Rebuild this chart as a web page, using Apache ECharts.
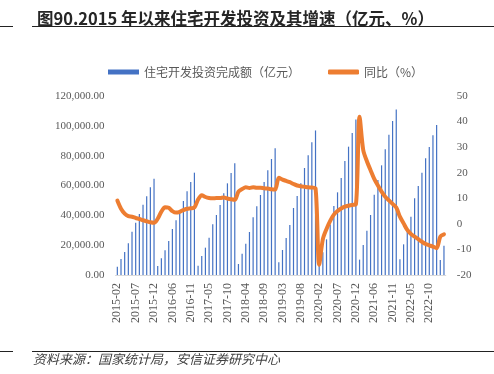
<!DOCTYPE html>
<html><head><meta charset="utf-8">
<script src="https://cdn.jsdelivr.net/npm/echarts@6/dist/echarts.min.js"></script>
<style>html,body{margin:0;padding:0;background:#fff}#c{width:494px;height:374px}</style>
</head><body><div id="c"></div>
<script>
const categories = [
 '2015-02','2015-03','2015-04','2015-05','2015-06','2015-07','2015-08','2015-09','2015-10','2015-11','2015-12',
 '2016-02','2016-03','2016-04','2016-05','2016-06','2016-07','2016-08','2016-09','2016-10','2016-11','2016-12',
 '2017-02','2017-03','2017-04','2017-05','2017-06','2017-07','2017-08','2017-09','2017-10','2017-11','2017-12',
 '2018-02','2018-03','2018-04','2018-05','2018-06','2018-07','2018-08','2018-09','2018-10','2018-11','2018-12',
 '2019-02','2019-03','2019-04','2019-05','2019-06','2019-07','2019-08','2019-09','2019-10','2019-11','2019-12',
 '2020-02','2020-03','2020-04','2020-05','2020-06','2020-07','2020-08','2020-09','2020-10','2020-11','2020-12',
 '2021-02','2021-03','2021-04','2021-05','2021-06','2021-07','2021-08','2021-09','2021-10','2021-11','2021-12',
 '2022-02','2022-03','2022-04','2022-05','2022-06','2022-07','2022-08','2022-09','2022-10','2022-11','2022-12',
 '2023-02','2023-03'
];
// 住宅开发投资完成额（亿元），累计值
const investment = [
 5560,10730,15420,21230,29050,35080,40890,47150,52740,58770,64500,
 6030,11170,16540,22790,30840,36650,41780,49610,56090,62350,68600,
 6250,12740,18320,25020,33970,40220,46930,54740,61460,68380,75000,
 7370,14300,21000,28830,38660,46040,53630,62350,70170,77770,85000,
 8490,16760,24800,33520,44920,52960,61460,71730,80220,88940,96900,
 7200,15300,23900,33900,46260,55420,65030,76430,86030,95200,104200,
 10300,20110,29720,40220,53850,63690,73520,84240,94080,103240,111000,
 10500,20560,29800,39090,51400,59670,68610,78210,85820,93630,100500,
 10050,19660
];
// 同比（%）
const yoy = [
 9.1,5.9,4.0,3.0,2.8,2.3,1.9,1.4,1.0,0.6,0.4,
 2.0,4.8,6.5,6.3,5.0,4.4,4.7,5.4,5.9,6.1,6.4,
 9.5,11.2,10.5,10.1,10.0,10.1,10.1,10.3,9.9,9.6,9.4,
 12.6,13.6,14.3,14.0,14.3,14.1,14.1,13.9,13.8,13.5,13.4,
 18.0,17.3,16.8,16.3,15.6,15.0,14.7,14.5,14.3,14.2,13.9,
 -16.0,-6.0,-2.0,1.2,3.6,5.0,6.0,6.7,7.1,7.4,7.6,
 41.9,28.9,24.5,21.0,17.6,15.0,12.6,10.6,9.2,7.8,6.4,
 2.8,0.2,-2.4,-4.0,-5.0,-6.0,-7.0,-7.9,-8.4,-8.9,-9.5,
 -5.0,-4.1
];
const seriesNames = ['住宅开发投资完成额（亿元）','同比（%）'];
const titleText = '图90.2015 年以来住宅开发投资及其增速（亿元、%）';
const sourceText = '资料来源：国家统计局，安信证券研究中心';

const chart = echarts.init(document.getElementById('c'), null, {renderer:'canvas'});
const cjk = '"Noto Sans CJK SC", sans-serif';
const serif = '"Liberation Serif", "DejaVu Serif", serif';
chart.setOption({
  animation:false,
  backgroundColor:'#fff',
  title:{text:titleText,left:32,top:5,textStyle:{fontFamily:cjk,fontSize:16.5,fontWeight:'bold',color:'#262626'}},
  graphic:[
    {type:'line',shape:{x1:0,y1:26.5,x2:13,y2:26.5},style:{stroke:'#222',lineWidth:1}},
    {type:'line',shape:{x1:32,y1:26.5,x2:494,y2:26.5},style:{stroke:'#222',lineWidth:1}},
    {type:'line',shape:{x1:0,y1:351.5,x2:13,y2:351.5},style:{stroke:'#222',lineWidth:1}},
    {type:'line',shape:{x1:32,y1:351.5,x2:494,y2:351.5},style:{stroke:'#222',lineWidth:1}},
    {type:'text',left:33,top:353,style:{text:sourceText,font:'italic 13px '+cjk,fill:'#404040'}}
  ],
  legend:{
    left:103,top:61,itemWidth:31,itemHeight:5,itemGap:28,
    textStyle:{fontFamily:cjk,fontSize:12,color:'#595959'},
    data:[{name:seriesNames[0],icon:'rect'},{name:seriesNames[1],icon:'roundRect'}]
  },
  grid:{left:115.5,right:48.2,top:96,bottom:99,containLabel:false},
  xAxis:{
    type:'category',data:categories,boundaryGap:true,
    axisLine:{show:true,lineStyle:{color:'#d9d9d9',width:1}},
    axisTick:{show:false},
    axisLabel:{interval:4,rotate:90,margin:8,fontFamily:serif,fontSize:12,color:'#595959'}
  },
  yAxis:[
    {type:'value',min:0,max:120000,interval:20000,splitLine:{show:false},axisLine:{show:false},axisTick:{show:false},
     axisLabel:{margin:11,fontFamily:serif,fontSize:11,color:'#595959',
       formatter:v=>v.toLocaleString('en-US',{minimumFractionDigits:2,maximumFractionDigits:2})}},
    {type:'value',min:-20,max:50,interval:10,splitLine:{show:false},axisLine:{show:false},axisTick:{show:false},
     axisLabel:{margin:11,fontFamily:serif,fontSize:11,color:'#595959'}}
  ],
  series:[
    {name:seriesNames[0],type:'bar',data:investment,barWidth:1.2,itemStyle:{color:'#4472C4'},yAxisIndex:0},
    {name:seriesNames[1],type:'line',data:yoy,yAxisIndex:1,showSymbol:false,smooth:0.3,
     lineStyle:{color:'#ED7D31',width:4,cap:'round',join:'round'},itemStyle:{color:'#ED7D31'}}
  ]
});
</script></body></html>
